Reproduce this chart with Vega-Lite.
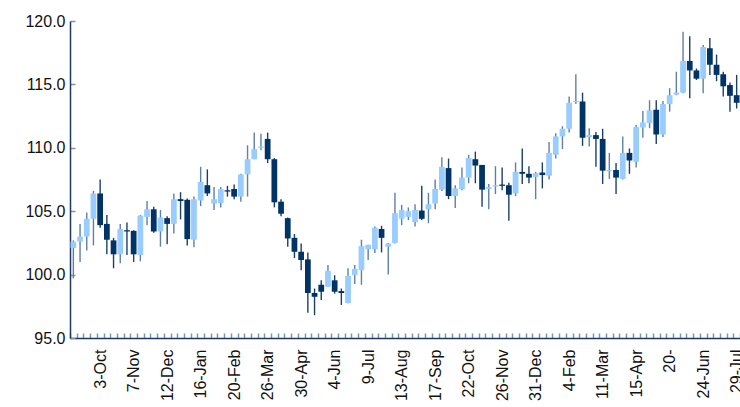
{
  "$schema": "https://vega.github.io/schema/vega-lite/v6.json",
  "width": 670,
  "height": 317,
  "autosize": "none",
  "padding": {"left": 70, "top": 21, "right": 0, "bottom": 69},
  "background": "white",
  "config": {
    "view": {"stroke": null},
    "font": "Liberation Sans",
    "axis": {"labelFont": "Liberation Sans", "labelFontSize": 16, "labelColor": "#111111", "grid": false, "title": null, "domainColor": "#1f3864", "domainWidth": 1.5, "tickColor": "#8196ad", "tickWidth": 1.5}
  },
  "data": {
    "values": [
      {"d": "2015-09-05", "o": 102.1, "h": 102.7, "l": 99.7, "c": 102.6},
      {"d": "2015-09-12", "o": 102.6, "h": 104.0, "l": 101.0, "c": 103.0},
      {"d": "2015-09-19", "o": 103.0, "h": 104.9, "l": 101.9, "c": 104.4},
      {"d": "2015-09-26", "o": 104.4, "h": 106.6, "l": 102.3, "c": 106.4},
      {"d": "2015-10-03", "o": 106.4, "h": 107.5, "l": 103.7, "c": 103.9},
      {"d": "2015-10-10", "o": 104.0, "h": 104.7, "l": 101.6, "c": 102.75},
      {"d": "2015-10-17", "o": 102.7, "h": 102.9, "l": 100.5, "c": 101.6},
      {"d": "2015-10-24", "o": 101.6, "h": 104.0, "l": 100.9, "c": 103.6},
      {"d": "2015-10-31", "o": 103.5, "h": 104.1, "l": 101.55, "c": 103.4},
      {"d": "2015-11-07", "o": 103.45, "h": 103.5, "l": 101.0, "c": 101.6},
      {"d": "2015-11-14", "o": 101.55, "h": 104.7, "l": 101.05, "c": 104.65},
      {"d": "2015-11-21", "o": 104.55, "h": 105.8, "l": 103.9, "c": 105.15},
      {"d": "2015-11-28", "o": 105.15, "h": 105.35, "l": 103.3, "c": 103.4},
      {"d": "2015-12-05", "o": 103.4, "h": 105.1, "l": 102.2, "c": 104.5},
      {"d": "2015-12-12", "o": 104.45, "h": 104.6, "l": 102.4, "c": 104.0},
      {"d": "2015-12-19", "o": 104.0, "h": 106.4, "l": 103.25, "c": 105.95},
      {"d": "2015-12-26", "o": 105.95, "h": 106.5, "l": 104.35, "c": 105.8},
      {"d": "2016-01-02", "o": 105.9, "h": 106.0, "l": 102.3, "c": 102.8},
      {"d": "2016-01-09", "o": 102.75, "h": 106.15, "l": 102.15, "c": 105.95},
      {"d": "2016-01-16", "o": 105.85, "h": 108.5, "l": 105.4, "c": 107.3},
      {"d": "2016-01-23", "o": 107.05, "h": 108.3, "l": 106.2, "c": 106.4},
      {"d": "2016-01-30", "o": 105.6, "h": 106.9, "l": 105.1, "c": 105.95},
      {"d": "2016-02-06", "o": 105.65, "h": 106.9, "l": 105.3, "c": 106.75},
      {"d": "2016-02-13", "o": 106.65, "h": 107.0, "l": 106.15, "c": 106.55},
      {"d": "2016-02-20", "o": 106.75, "h": 107.1, "l": 105.95, "c": 106.15},
      {"d": "2016-02-27", "o": 106.15, "h": 107.95, "l": 105.75, "c": 107.9},
      {"d": "2016-03-05", "o": 107.9, "h": 110.2, "l": 106.15, "c": 109.1},
      {"d": "2016-03-12", "o": 109.1, "h": 111.2, "l": 109.1, "c": 109.9},
      {"d": "2016-03-19", "o": 110.0, "h": 111.1, "l": 109.8, "c": 110.1},
      {"d": "2016-03-26", "o": 110.7, "h": 111.2, "l": 108.8, "c": 109.1},
      {"d": "2016-04-02", "o": 109.1, "h": 109.2, "l": 105.3, "c": 105.7},
      {"d": "2016-04-09", "o": 105.75, "h": 105.95, "l": 104.6, "c": 104.8},
      {"d": "2016-04-16", "o": 104.45, "h": 104.5, "l": 102.2, "c": 102.85},
      {"d": "2016-04-23", "o": 102.9, "h": 103.2, "l": 101.3, "c": 101.8},
      {"d": "2016-04-30", "o": 101.8, "h": 102.45, "l": 100.35, "c": 101.15},
      {"d": "2016-05-07", "o": 101.2, "h": 101.75, "l": 97.0, "c": 98.55},
      {"d": "2016-05-14", "o": 98.55, "h": 98.9, "l": 96.8, "c": 98.25},
      {"d": "2016-05-21", "o": 99.2, "h": 99.55, "l": 98.0, "c": 98.65},
      {"d": "2016-05-28", "o": 99.05, "h": 100.75, "l": 99.05, "c": 100.3},
      {"d": "2016-06-04", "o": 99.55, "h": 99.95, "l": 98.5, "c": 98.65},
      {"d": "2016-06-11", "o": 98.7, "h": 98.9, "l": 97.6, "c": 98.55},
      {"d": "2016-06-18", "o": 97.75, "h": 100.5, "l": 97.75, "c": 99.9},
      {"d": "2016-06-25", "o": 99.95, "h": 100.75, "l": 99.25, "c": 100.45},
      {"d": "2016-07-02", "o": 100.35, "h": 102.75, "l": 99.2, "c": 102.25},
      {"d": "2016-07-09", "o": 102.0, "h": 102.35, "l": 101.15, "c": 102.35},
      {"d": "2016-07-16", "o": 102.0, "h": 103.8, "l": 101.7, "c": 103.7},
      {"d": "2016-07-23", "o": 103.6, "h": 103.85, "l": 101.75, "c": 102.9},
      {"d": "2016-07-30", "o": 102.2, "h": 102.5, "l": 100.0, "c": 102.45},
      {"d": "2016-08-06", "o": 102.5, "h": 106.45, "l": 102.45, "c": 104.85},
      {"d": "2016-08-13", "o": 104.4, "h": 105.5, "l": 103.9, "c": 105.1},
      {"d": "2016-08-20", "o": 104.55, "h": 105.3, "l": 104.3, "c": 105.0},
      {"d": "2016-08-27", "o": 104.15, "h": 105.55, "l": 103.8, "c": 105.1},
      {"d": "2016-09-03", "o": 105.05, "h": 107.0, "l": 104.3, "c": 104.4},
      {"d": "2016-09-10", "o": 105.15, "h": 106.45, "l": 104.05, "c": 105.55},
      {"d": "2016-09-17", "o": 105.6, "h": 107.5, "l": 105.15, "c": 106.75},
      {"d": "2016-09-24", "o": 106.7, "h": 109.25, "l": 106.6, "c": 108.5},
      {"d": "2016-10-01", "o": 108.4, "h": 109.15, "l": 105.95, "c": 106.2},
      {"d": "2016-10-08", "o": 106.2, "h": 107.05, "l": 105.25, "c": 106.8},
      {"d": "2016-10-15", "o": 106.75, "h": 108.45, "l": 106.65, "c": 107.65},
      {"d": "2016-10-22", "o": 107.65, "h": 109.45, "l": 107.2, "c": 109.2},
      {"d": "2016-10-29", "o": 109.1, "h": 109.7, "l": 107.2, "c": 108.6},
      {"d": "2016-11-05", "o": 108.65, "h": 108.65, "l": 105.35, "c": 106.7},
      {"d": "2016-11-12", "o": 106.75, "h": 107.15, "l": 105.15, "c": 106.9},
      {"d": "2016-11-19", "o": 106.95, "h": 108.55, "l": 106.35, "c": 107.05},
      {"d": "2016-11-26", "o": 107.1, "h": 108.45, "l": 106.65, "c": 107.0},
      {"d": "2016-12-03", "o": 107.05, "h": 107.25, "l": 104.25, "c": 106.3},
      {"d": "2016-12-10", "o": 106.4, "h": 108.85, "l": 106.2, "c": 108.1},
      {"d": "2016-12-17", "o": 108.1, "h": 109.95, "l": 107.15, "c": 107.95},
      {"d": "2016-12-24", "o": 107.95, "h": 108.55, "l": 107.2, "c": 107.65},
      {"d": "2016-12-31", "o": 107.7, "h": 108.1, "l": 105.95, "c": 108.0},
      {"d": "2017-01-07", "o": 108.05, "h": 108.85, "l": 106.8, "c": 107.85},
      {"d": "2017-01-14", "o": 107.8, "h": 110.45, "l": 107.5, "c": 109.6},
      {"d": "2017-01-21", "o": 109.45, "h": 111.15, "l": 109.15, "c": 110.9},
      {"d": "2017-01-28", "o": 110.9, "h": 111.7, "l": 109.9, "c": 111.5},
      {"d": "2017-02-04", "o": 111.5, "h": 114.05, "l": 111.2, "c": 113.55},
      {"d": "2017-02-11", "o": 113.6, "h": 115.8, "l": 113.45, "c": 113.7},
      {"d": "2017-02-18", "o": 113.65, "h": 114.35, "l": 110.15, "c": 110.8},
      {"d": "2017-02-25", "o": 110.85, "h": 111.55, "l": 110.1, "c": 111.0},
      {"d": "2017-03-04", "o": 111.0, "h": 111.25, "l": 108.5, "c": 110.7},
      {"d": "2017-03-11", "o": 110.7, "h": 111.5, "l": 107.15, "c": 108.2},
      {"d": "2017-03-18", "o": 108.15, "h": 109.6, "l": 107.55, "c": 108.25},
      {"d": "2017-03-25", "o": 108.25, "h": 108.8, "l": 106.35, "c": 107.65},
      {"d": "2017-04-01", "o": 107.55, "h": 110.9, "l": 107.5, "c": 109.6},
      {"d": "2017-04-08", "o": 109.6, "h": 109.95, "l": 107.95, "c": 109.0},
      {"d": "2017-04-15", "o": 108.9, "h": 111.8, "l": 108.45, "c": 111.65},
      {"d": "2017-04-22", "o": 111.6, "h": 112.9, "l": 110.8, "c": 112.0},
      {"d": "2017-04-29", "o": 111.95, "h": 113.75, "l": 111.55, "c": 112.95},
      {"d": "2017-05-06", "o": 113.0, "h": 113.75, "l": 110.3, "c": 111.05},
      {"d": "2017-05-13", "o": 111.05, "h": 113.7, "l": 110.85, "c": 113.45},
      {"d": "2017-05-20", "o": 113.45, "h": 114.7, "l": 112.85, "c": 114.15},
      {"d": "2017-05-27", "o": 114.2, "h": 116.0, "l": 114.15, "c": 114.35},
      {"d": "2017-06-03", "o": 114.35, "h": 119.15, "l": 114.3, "c": 116.85},
      {"d": "2017-06-10", "o": 116.85, "h": 118.8, "l": 113.9, "c": 116.1},
      {"d": "2017-06-17", "o": 116.1, "h": 116.25, "l": 115.35, "c": 115.45},
      {"d": "2017-06-24", "o": 115.45, "h": 118.1, "l": 114.3, "c": 117.95},
      {"d": "2017-07-01", "o": 117.85, "h": 118.65, "l": 115.75, "c": 116.55},
      {"d": "2017-07-08", "o": 116.55, "h": 117.35, "l": 115.25, "c": 115.75},
      {"d": "2017-07-15", "o": 115.8, "h": 116.0, "l": 114.05, "c": 114.85},
      {"d": "2017-07-22", "o": 114.95, "h": 115.15, "l": 112.85, "c": 114.1},
      {"d": "2017-07-29", "o": 114.15, "h": 115.75, "l": 113.1, "c": 113.55}
    ]
  },
  "encoding": {
    "x": {
      "field": "d",
      "type": "ordinal",
      "scale": {"paddingInner": 0, "paddingOuter": 0},
      "axis": {
        "labelAngle": -90,
        "labelAlign": "right",
        "labelBaseline": "middle",
        "labelPadding": 16,
        "labelOverlap": false,
        "tickBand": "extent",
        "tickSize": -5,
        "labelExpr": "indexof(['2015-10-03','2015-11-07','2015-12-12','2016-01-16','2016-02-20','2016-03-26','2016-04-30','2016-06-04','2016-07-09','2016-08-13','2016-09-17','2016-10-22','2016-11-26','2016-12-31','2017-02-04','2017-03-11','2017-04-15','2017-05-20','2017-06-24','2017-07-29'], datum.value) >= 0 ? ['3-Oct','7-Nov','12-Dec','16-Jan','20-Feb','26-Mar','30-Apr','4-Jun','9-Jul','13-Aug','17-Sep','22-Oct','26-Nov','31-Dec','4-Feb','11-Mar','15-Apr','20-','24-Jun','29-Jul'][indexof(['2015-10-03','2015-11-07','2015-12-12','2016-01-16','2016-02-20','2016-03-26','2016-04-30','2016-06-04','2016-07-09','2016-08-13','2016-09-17','2016-10-22','2016-11-26','2016-12-31','2017-02-04','2017-03-11','2017-04-15','2017-05-20','2017-06-24','2017-07-29'], datum.value)] : ''"
      }
    }
  },
  "layer": [
    {
      "mark": {"type": "rule", "strokeWidth": 1.4},
      "encoding": {
        "y": {
          "field": "l",
          "type": "quantitative",
          "scale": {"domain": [95, 120], "nice": false, "zero": false},
          "axis": {"values": [95, 100, 105, 110, 115, 120], "format": ".1f", "tickSize": -5, "labelPadding": 10}
        },
        "y2": {"field": "h"},
        "color": {"condition": {"test": "datum.c > datum.o", "value": "#5f7fa3"}, "value": "#1c3f69"}
      }
    },
    {
      "mark": {"type": "bar", "width": {"band": 0.86}},
      "encoding": {
        "y": {"field": "o", "type": "quantitative"},
        "y2": {"field": "c"},
        "color": {"condition": {"test": "datum.c > datum.o", "value": "#99ccff"}, "value": "#003366"}
      }
    }
  ]
}
